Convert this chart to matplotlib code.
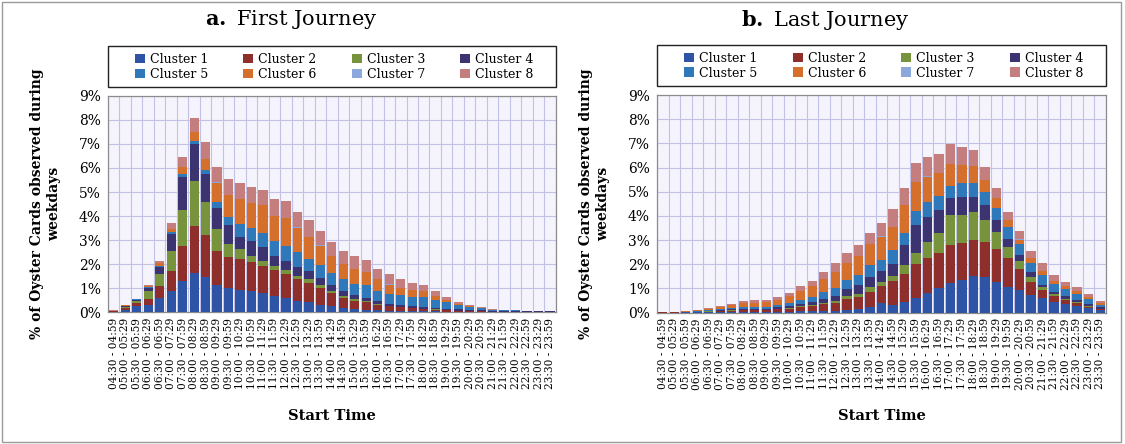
import matplotlib
matplotlib.use("Agg")
import matplotlib.pyplot as plt
from matplotlib.patches import Rectangle, Shadow
import numpy as np

start_times = ["04:30", "05:00", "05:30", "06:00", "06:30", "07:00", "07:30", "08:00",
               "08:30", "09:00", "09:30", "10:00", "10:30", "11:00", "11:30", "12:00",
               "12:30", "13:00", "13:30", "14:00", "14:30", "15:00", "15:30", "16:00",
               "16:30", "17:00", "17:30", "18:00", "18:30", "19:00", "19:30", "20:00",
               "20:30", "21:00", "21:30", "22:00", "22:30", "23:00", "23:30"]
end_times = ["04:59", "05:29", "05:59", "06:29", "06:59", "07:29", "07:59", "08:29",
             "08:59", "09:29", "09:59", "10:29", "10:59", "11:29", "11:59", "12:29",
             "12:59", "13:29", "13:59", "14:29", "14:59", "15:29", "15:59", "16:29",
             "16:59", "17:29", "17:59", "18:29", "18:59", "19:29", "19:59", "20:29",
             "20:59", "21:29", "21:59", "22:29", "22:59", "23:29", "23:59"]

cluster_names = ["Cluster 1", "Cluster 2", "Cluster 3", "Cluster 4",
                 "Cluster 5", "Cluster 6", "Cluster 7", "Cluster 8"]
cluster_colors = ["#2E55A5", "#8E2F2B", "#77933C", "#3B3470",
                  "#2F79BA", "#D5702C", "#8AA8DE", "#C47E7E"]

# ---- a. First Journey (% of cards), one list per cluster ----
first_c1 = [0.02, 0.10, 0.24, 0.31, 0.59, 0.90, 1.30, 1.63, 1.48, 1.15, 1.00, 0.93, 0.87,
            0.80, 0.69, 0.59, 0.48, 0.41, 0.31, 0.24, 0.17, 0.13, 0.10, 0.07, 0.06, 0.05,
            0.04, 0.03, 0.03, 0.02, 0.02, 0.01, 0.01, 0.01, 0.01, 0.01, 0.005, 0.005, 0.004]
first_c2 = [0.01, 0.08, 0.13, 0.24, 0.49, 0.82, 1.45, 1.96, 1.72, 1.41, 1.31, 1.27, 1.20,
            1.13, 1.06, 0.99, 0.89, 0.82, 0.70, 0.56, 0.42, 0.35, 0.31, 0.24, 0.18, 0.15,
            0.12, 0.10, 0.07, 0.05, 0.03, 0.02, 0.02, 0.01, 0.01, 0.01, 0.01, 0.008, 0.006]
first_c3 = [0.005, 0.03, 0.08, 0.32, 0.52, 0.84, 1.51, 1.86, 1.37, 0.92, 0.52, 0.42, 0.28,
            0.21, 0.18, 0.17, 0.14, 0.14, 0.11, 0.10, 0.07, 0.06, 0.04, 0.03, 0.03, 0.02,
            0.02, 0.02, 0.01, 0.01, 0.01, 0.01, 0.005, 0.005, 0.005, 0.005, 0.005, 0.002, 0.002]
first_c4 = [0.02, 0.05, 0.07, 0.14, 0.26, 0.71, 1.38, 1.56, 1.18, 0.84, 0.79, 0.50, 0.63,
            0.56, 0.42, 0.39, 0.35, 0.35, 0.31, 0.25, 0.21, 0.17, 0.14, 0.11, 0.08, 0.08,
            0.07, 0.07, 0.06, 0.05, 0.05, 0.04, 0.04, 0.03, 0.03, 0.025, 0.02, 0.02, 0.016]
first_c5 = [0.005, 0.01, 0.01, 0.05, 0.07, 0.07, 0.10, 0.10, 0.15, 0.25, 0.33, 0.55, 0.54,
            0.59, 0.63, 0.63, 0.63, 0.49, 0.54, 0.49, 0.49, 0.48, 0.54, 0.42, 0.41, 0.40,
            0.40, 0.39, 0.35, 0.28, 0.18, 0.12, 0.08, 0.04, 0.03, 0.02, 0.015, 0.01, 0.008]
first_c6 = [0.005, 0.01, 0.01, 0.03, 0.10, 0.14, 0.28, 0.37, 0.48, 0.82, 0.92, 1.02, 1.01,
            1.17, 1.01, 1.13, 1.03, 0.92, 0.80, 0.70, 0.63, 0.61, 0.52, 0.49, 0.39, 0.32,
            0.28, 0.25, 0.17, 0.10, 0.06, 0.04, 0.02, 0.01, 0.005, 0.005, 0.003, 0.003, 0.002]
first_c7 = [0.0, 0.0, 0.0, 0.0, 0.0, 0.0, 0.01, 0.01, 0.01, 0.01, 0.01, 0.01, 0.01,
            0.01, 0.01, 0.01, 0.01, 0.01, 0.01, 0.01, 0.01, 0.01, 0.01, 0.01, 0.01, 0.0,
            0.0, 0.0, 0.0, 0.0, 0.0, 0.0, 0.0, 0.0, 0.0, 0.0, 0.0, 0.0, 0.0]
first_c8 = [0.005, 0.02, 0.01, 0.04, 0.11, 0.21, 0.42, 0.60, 0.68, 0.62, 0.66, 0.69, 0.67,
            0.63, 0.70, 0.73, 0.62, 0.70, 0.61, 0.56, 0.54, 0.52, 0.52, 0.42, 0.42, 0.35,
            0.29, 0.25, 0.18, 0.11, 0.07, 0.04, 0.025, 0.015, 0.01, 0.005, 0.002, 0.002, 0.002]

# ---- b. Last Journey (% of cards) ----
last_c1 = [0.003, 0.003, 0.005, 0.008, 0.01, 0.015, 0.02, 0.02, 0.02, 0.02, 0.03, 0.04, 0.05,
           0.06, 0.07, 0.08, 0.10, 0.15, 0.22, 0.39, 0.32, 0.45, 0.59, 0.80, 1.00, 1.24,
           1.35, 1.52, 1.49, 1.28, 1.07, 0.94, 0.73, 0.59, 0.45, 0.36, 0.28, 0.18, 0.11]
last_c2 = [0.005, 0.006, 0.01, 0.015, 0.03, 0.04, 0.06, 0.08, 0.08, 0.08, 0.10, 0.12, 0.17,
           0.20, 0.27, 0.33, 0.45, 0.50, 0.65, 0.69, 1.00, 1.14, 1.42, 1.45, 1.45, 1.56,
           1.52, 1.49, 1.45, 1.34, 1.17, 0.85, 0.55, 0.34, 0.23, 0.17, 0.11, 0.07, 0.04]
last_c3 = [0.001, 0.001, 0.002, 0.004, 0.005, 0.01, 0.01, 0.015, 0.015, 0.015, 0.02, 0.03, 0.04,
           0.05, 0.07, 0.08, 0.12, 0.13, 0.18, 0.17, 0.19, 0.37, 0.47, 0.69, 0.85, 1.24,
           1.17, 1.17, 0.90, 0.73, 0.48, 0.36, 0.21, 0.11, 0.07, 0.04, 0.03, 0.01, 0.01]
last_c4 = [0.005, 0.006, 0.01, 0.013, 0.02, 0.03, 0.04, 0.05, 0.05, 0.05, 0.06, 0.08, 0.10,
           0.12, 0.17, 0.20, 0.30, 0.35, 0.42, 0.45, 0.50, 0.83, 1.14, 1.03, 0.94, 0.69,
           0.73, 0.62, 0.62, 0.48, 0.34, 0.23, 0.17, 0.12, 0.11, 0.10, 0.08, 0.08, 0.06]
last_c5 = [0.005, 0.007, 0.01, 0.015, 0.025, 0.035, 0.05, 0.07, 0.07, 0.08, 0.10, 0.12, 0.17,
           0.22, 0.26, 0.34, 0.38, 0.42, 0.50, 0.48, 0.58, 0.51, 0.59, 0.62, 0.58, 0.51,
           0.61, 0.58, 0.51, 0.48, 0.48, 0.45, 0.41, 0.39, 0.32, 0.30, 0.28, 0.21, 0.10]
last_c6 = [0.006, 0.01, 0.02, 0.035, 0.06, 0.08, 0.12, 0.16, 0.17, 0.18, 0.21, 0.30, 0.37,
           0.45, 0.55, 0.63, 0.70, 0.80, 0.85, 0.96, 0.96, 1.14, 1.20, 1.03, 0.96, 0.91,
           0.73, 0.69, 0.50, 0.41, 0.28, 0.19, 0.18, 0.17, 0.14, 0.11, 0.10, 0.08, 0.06]
last_c7 = [0.0, 0.0, 0.0, 0.0, 0.0, 0.0, 0.0, 0.0, 0.0, 0.0, 0.0, 0.0, 0.0,
           0.0, 0.0, 0.0, 0.0, 0.0, 0.0, 0.01, 0.01, 0.01, 0.01, 0.01, 0.01, 0.01,
           0.01, 0.01, 0.01, 0.01, 0.01, 0.01, 0.0, 0.0, 0.0, 0.0, 0.0, 0.0, 0.0]
last_c8 = [0.005, 0.007, 0.013, 0.02, 0.03, 0.045, 0.06, 0.085, 0.095, 0.095, 0.11, 0.14, 0.20,
           0.22, 0.30, 0.38, 0.43, 0.45, 0.49, 0.57, 0.71, 0.72, 0.75, 0.79, 0.79, 0.82,
           0.72, 0.65, 0.54, 0.44, 0.33, 0.35, 0.28, 0.32, 0.23, 0.20, 0.18, 0.12, 0.08]

first_series = [first_c1, first_c2, first_c3, first_c4, first_c5, first_c6, first_c7, first_c8]
last_series = [last_c1, last_c2, last_c3, last_c4, last_c5, last_c6, last_c7, last_c8]

y_ticks = [0, 1, 2, 3, 4, 5, 6, 7, 8, 9]

plt.rcParams["font.family"] = ["DejaVu Serif"]
plt.rcParams["mathtext.fontset"] = "custom"
plt.rcParams["mathtext.bf"] = "DejaVu Serif:bold"
plt.rcParams["mathtext.rm"] = "DejaVu Serif"

fig = plt.figure(figsize=(11.25, 4.44), dpi=100)
fig.patch.set_facecolor("white")

# outer figure border
fig.add_artist(Rectangle((0.002, 0.004), 0.994, 0.992, transform=fig.transFigure,
                         fill=False, edgecolor="#9a9a9a", linewidth=1.0))

labels = [f"{s} - {e}" for s, e in zip(start_times, end_times)]

panels = [
    ("a.", "First Journey", first_series, [0.096, 0.297, 0.398, 0.487], 0.259),
    ("b.", "Last Journey", last_series, [0.584, 0.296, 0.399, 0.490], 0.734),
]

for tag, title, series, rect, tx in panels:
    ax = fig.add_axes(rect)
    ax.set_facecolor("#F5F3FB")
    x = np.arange(len(labels))
    bottom = np.zeros(len(labels))
    handles = []
    for vals, name, col in zip(series, cluster_names, cluster_colors):
        v = np.array(vals)
        h = ax.bar(x, v, bottom=bottom, width=0.8, color=col, label=name,
                   edgecolor="none", zorder=3)
        handles.append(h)
        bottom += v
    ax.set_xlim(-0.5, len(labels) - 0.5)
    ax.set_ylim(0, 9)
    ax.set_yticks(y_ticks)
    ax.set_yticklabels([f"{t}%" for t in y_ticks], fontsize=10)
    ax.set_xticks(x)
    ax.set_xticklabels(labels, rotation=90, fontsize=7.6)
    ax.tick_params(axis="both", length=0, pad=5)
    ax.tick_params(axis="x", pad=4)
    for k in range(len(labels) + 1):
        ax.axvline(k - 0.5, color="#C2C1E6", linewidth=0.8, zorder=1)
    for t in y_ticks:
        ax.axhline(t, color="#C2C1E6", linewidth=0.8, zorder=1)
    for sp in ax.spines.values():
        sp.set_color("#8c8c8c")
        sp.set_linewidth(0.9)
    ax.set_xlabel("Start Time", fontsize=10.5, fontweight="bold", labelpad=14)
    ax.set_ylabel("% of Oyster Cards observed during\nweekdays", fontsize=10,
                  fontweight="bold", labelpad=13, linespacing=1.3)

    # legend frame with shadow, spanning the full axes width
    frame = Rectangle((0.0, 1.04), 1.0, 0.19, transform=ax.transAxes,
                      facecolor="white", edgecolor="#222222", linewidth=1.0,
                      clip_on=False, zorder=5)
    shadow = Shadow(frame, 3, -3, facecolor="#9a9a9a", alpha=0.7)
    shadow.set_clip_on(False)
    ax.add_artist(shadow)
    ax.add_artist(frame)

    # legend entries in row-wise order with 4 columns
    order = [0, 4, 1, 5, 2, 6, 3, 7]
    leg = ax.legend([handles[i] for i in order], [cluster_names[i] for i in order],
                    ncol=4, loc="center", bbox_to_anchor=(0.055, 1.04, 0.9, 0.19),
                    mode="expand", fontsize=9, frameon=False, handlelength=0.8,
                    handleheight=0.8, handletextpad=0.4, borderpad=0.2,
                    labelspacing=0.15, borderaxespad=0.0)
    leg.set_zorder(6)
    fig.text(tx, 0.955, r"$\mathbf{" + tag + "}$ " + title, ha="center",
             va="center", fontsize=15)

fig.savefig("out.png", dpi=100)
